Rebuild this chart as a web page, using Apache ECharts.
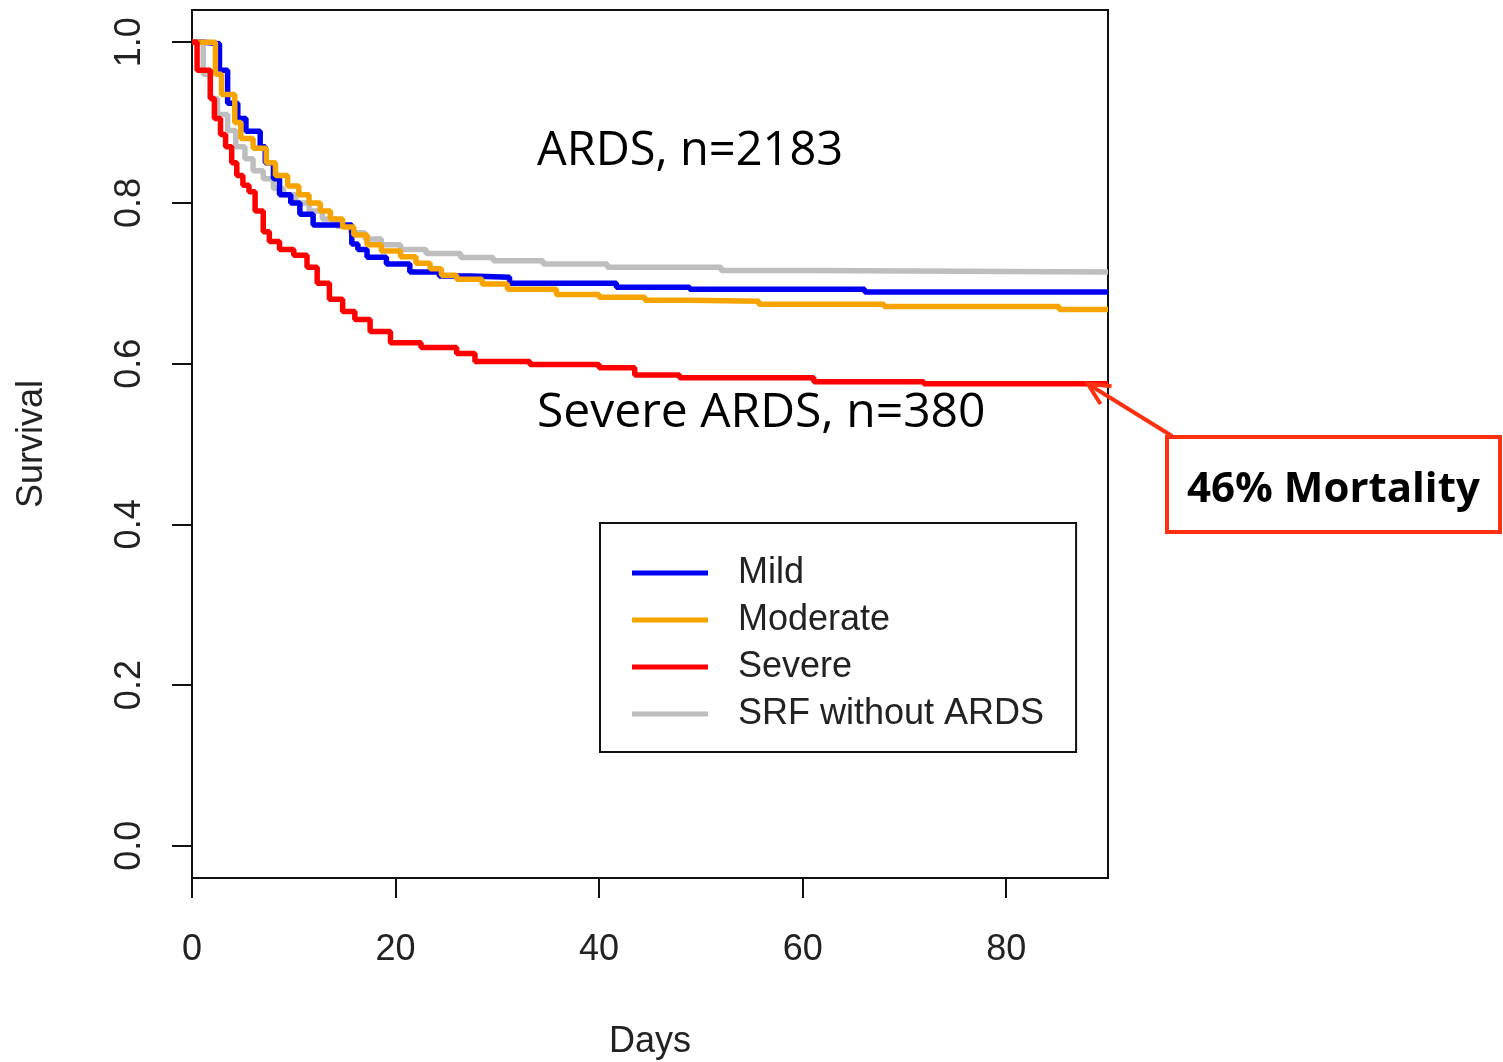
<!DOCTYPE html>
<html>
<head>
<meta charset="utf-8">
<script src="https://cdn.jsdelivr.net/npm/echarts@6/dist/echarts.min.js"></script>
<style>
  html, body { margin: 0; padding: 0; background: #fff; }
  #main { width: 1503px; height: 1062px; }
</style>
</head>
<body>
<div id="main"></div>
<script>
// Kaplan-Meier survival: [day, survival]
var mild = [
  [0, 1.0], [1.2, 0.998], [2.7, 0.965], [3.5, 0.924], [4.5, 0.905], [5.3, 0.889],
  [6.7, 0.87], [7.2, 0.85], [8.0, 0.83], [8.6, 0.81], [9.7, 0.80], [10.6, 0.786],
  [11.9, 0.7725], [15.7, 0.749], [16.3, 0.742], [17.2, 0.7325], [19.1, 0.724],
  [21.4, 0.714], [24.3, 0.709], [27.3, 0.7075], [31.2, 0.70], [41.7, 0.695],
  [48.9, 0.6925], [66.1, 0.689], [90, 0.689]
];
var moderate = [
  [0, 1.0], [2.3, 0.96], [2.9, 0.935], [4.2, 0.90], [4.8, 0.88], [6.0, 0.868],
  [7.3, 0.85], [8.2, 0.834], [9.4, 0.821], [10.5, 0.81], [11.5, 0.80], [12.6, 0.79],
  [13.6, 0.78], [14.8, 0.77], [15.9, 0.76], [17.2, 0.748], [18.6, 0.74], [20.5, 0.733],
  [22.0, 0.725], [23.4, 0.718], [24.5, 0.71], [26.0, 0.705], [28.5, 0.699],
  [31.0, 0.6925], [35.8, 0.686], [40.0, 0.6825], [44.5, 0.679], [49.0, 0.6775],
  [55.7, 0.674], [68.0, 0.671], [85.2, 0.6675], [90, 0.6675]
];
var severe = [
  [0, 1.0], [0.5, 0.965], [1.8, 0.93], [2.2, 0.905], [2.8, 0.885], [3.3, 0.87],
  [3.9, 0.85], [4.4, 0.834], [5.0, 0.822], [5.6, 0.814], [6.2, 0.79], [7.0, 0.764],
  [7.6, 0.752], [8.6, 0.742], [10.0, 0.735], [11.3, 0.72], [12.3, 0.70], [13.5, 0.68],
  [14.8, 0.665], [16.0, 0.655], [17.5, 0.64], [19.5, 0.626], [22.5, 0.62],
  [26.0, 0.6125], [27.8, 0.6025], [33.2, 0.599], [40.0, 0.595], [43.5, 0.586],
  [47.9, 0.5825], [61.1, 0.5775], [71.9, 0.575], [90, 0.575]
];
var srf = [
  [0, 1.0], [1.1, 0.96], [1.8, 0.93], [2.5, 0.91], [3.5, 0.89], [4.3, 0.87],
  [5.2, 0.855], [6.0, 0.84], [7.0, 0.83], [8.0, 0.818], [9.0, 0.81], [10.2, 0.80],
  [11.5, 0.79], [12.8, 0.78], [14.2, 0.771], [15.6, 0.763], [17.0, 0.755],
  [18.6, 0.748], [20.5, 0.742], [23.0, 0.737], [26.4, 0.732], [29.6, 0.728],
  [34.5, 0.724], [40.8, 0.72], [52.0, 0.716], [61.1, 0.714], [90, 0.714]
];

var seriesNames = ['Mild', 'Moderate', 'Severe', 'SRF without ARDS'];
var xTicks = [0, 20, 40, 60, 80];
var yTicks = [0, 0.2, 0.4, 0.6, 0.8, 1.0];

var FONT = "'Liberation Sans', Arial, sans-serif";
var HAND = "'Comic Sans MS', 'Open Sans', sans-serif";

var chart = echarts.init(document.getElementById('main'));

function kmLine(name, data, color, z) {
  return {
    name: name,
    type: 'line',
    step: 'end',
    data: data,
    symbol: 'none',
    showSymbol: false,
    z: z,
    lineStyle: { color: color, width: 5.5 },
    itemStyle: { color: color },
    emphasis: { disabled: true }
  };
}

chart.setOption({
  backgroundColor: '#fff',
  animation: false,
  grid: {
    left: 192, top: 10, width: 916, height: 868,
    show: true, borderColor: '#111', borderWidth: 2,
    outerBoundsMode: 'none'
  },
  xAxis: {
    type: 'value', min: 0, max: 90,
    name: 'Days', nameLocation: 'middle', nameGap: 146,
    nameTextStyle: { fontFamily: FONT, fontSize: 36, color: '#222' },
    axisLine: { show: false, onZero: false },
    splitLine: { show: false },
    axisTick: { show: true, length: 20, customValues: xTicks, lineStyle: { color: '#111', width: 2 } },
    axisLabel: { customValues: xTicks, margin: 54, fontFamily: FONT, fontSize: 36, color: '#222' }
  },
  yAxis: {
    type: 'value', min: -0.04, max: 1.04,
    name: 'Survival', nameLocation: 'middle', nameGap: 142,
    nameTextStyle: { fontFamily: FONT, fontSize: 36, color: '#222' },
    axisLine: { show: false, onZero: false },
    splitLine: { show: false },
    axisTick: { show: true, length: 20, customValues: yTicks, lineStyle: { color: '#111', width: 2 } },
    axisLabel: {
      customValues: yTicks, rotate: 90, margin: 44,
      fontFamily: FONT, fontSize: 36, color: '#222',
      formatter: function (v) { return v.toFixed(1); }
    }
  },
  legend: {
    data: seriesNames.map(function (n) { return { name: n, icon: 'rect' }; }),
    orient: 'vertical',
    left: 600, top: 523,
    padding: [32, 32, 20, 32],
    itemWidth: 76, itemHeight: 5, itemGap: 11,
    borderColor: '#111', borderWidth: 2, borderRadius: 0,
    backgroundColor: '#fff',
    selectedMode: false,
    textStyle: { fontFamily: FONT, fontSize: 36, lineHeight: 36, color: '#222', padding: [0, 0, 0, 25] }
  },
  series: [
    kmLine('Mild', mild, '#0000f0', 3),
    kmLine('Moderate', moderate, '#f7a400', 4),
    kmLine('Severe', severe, '#ff0000', 5),
    kmLine('SRF without ARDS', srf, '#bebebe', 2)
  ]
});

// annotations; the arrow tip is placed on the end of the severe curve
var tip = chart.convertToPixel({ gridIndex: 0 }, [88, severe[severe.length - 1][1]]);
var tail = [1172, 436];
var ang = Math.atan2(tail[1] - tip[1], tail[0] - tip[0]);
var headLen = 24, spread = 0.45;
var h1 = [tip[0] + headLen * Math.cos(ang - spread), tip[1] + headLen * Math.sin(ang - spread)];
var h2 = [tip[0] + headLen * Math.cos(ang + spread), tip[1] + headLen * Math.sin(ang + spread)];
var RED = '#ff3010';

chart.setOption({
  graphic: [
    {
      type: 'text', left: 537, top: 128, z: 10,
      style: { text: 'ARDS, n=2183', fontFamily: HAND, fontSize: 47, fill: '#000' }
    },
    {
      type: 'text', left: 537, top: 389, z: 10,
      style: { text: 'Severe ARDS, n=380', fontFamily: HAND, fontSize: 48, fill: '#000' }
    },
    {
      type: 'polyline', z: 10,
      shape: { points: [tail, tip] },
      style: { stroke: RED, lineWidth: 4, fill: null }
    },
    {
      type: 'polyline', z: 10,
      shape: { points: [h1, tip, h2] },
      style: { stroke: RED, lineWidth: 4, fill: null }
    },
    {
      type: 'rect', z: 10,
      shape: { x: 1167, y: 437, width: 333, height: 95 },
      style: { fill: '#fff', stroke: RED, lineWidth: 4 }
    },
    {
      type: 'text', left: 1187, top: 469, z: 11,
      style: { text: '46% Mortality', fontFamily: HAND, fontSize: 42, fontWeight: 'bold', fill: '#000' }
    }
  ]
});
</script>
</body>
</html>
